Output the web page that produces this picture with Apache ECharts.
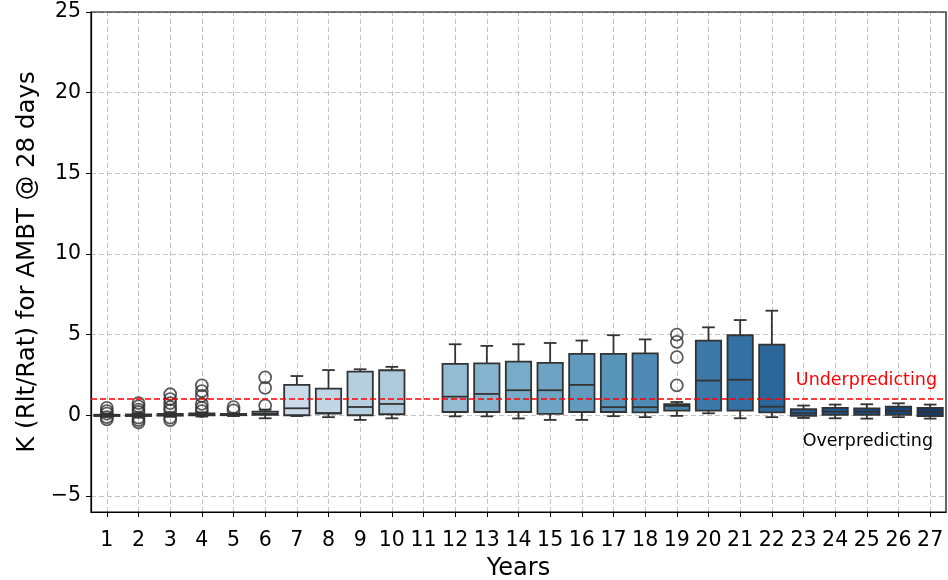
<!DOCTYPE html>
<html>
<head>
<meta charset="utf-8">
<script src="https://cdn.jsdelivr.net/npm/echarts@6/dist/echarts.min.js"></script>
<style>
html,body{margin:0;padding:0;background:#fff;}
#chart{width:948px;height:580px;}
</style>
</head>
<body>
<div id="chart"></div>
<script>
// ---- data ----
var years = ['1','2','3','4','5','6','7','8','9','10','11','12','13','14','15','16','17','18','19','20','21','22','23','24','25','26','27'];
// [low whisker, Q1, median, Q3, high whisker] per year (null = no data)
var boxStats = [
  [-0.1, -0.05, 0.0, 0.03, 0.08],
  [-0.1, -0.05, 0.0, 0.05, 0.1],
  [-0.1, -0.03, 0.02, 0.08, 0.15],
  [-0.08, 0.0, 0.05, 0.12, 0.18],
  [-0.05, 0.0, 0.03, 0.08, 0.12],
  [-0.19, 0.02, 0.1, 0.22, 0.35],
  [-0.05, 0.0, 0.43, 1.88, 2.43],
  [-0.12, 0.1, 0.14, 1.65, 2.8],
  [-0.29, 0.0, 0.51, 2.7, 2.85],
  [-0.19, 0.06, 0.7, 2.79, 3.0],
  null,
  [-0.07, 0.2, 1.15, 3.18, 4.4],
  [-0.07, 0.2, 1.32, 3.22, 4.3],
  [-0.2, 0.2, 1.55, 3.32, 4.4],
  [-0.29, 0.08, 1.55, 3.24, 4.48],
  [-0.29, 0.2, 1.88, 3.8, 4.63],
  [-0.06, 0.2, 0.5, 3.8, 4.96],
  [-0.12, 0.18, 0.5, 3.84, 4.7],
  [-0.04, 0.29, 0.58, 0.68, 0.82],
  [0.12, 0.29, 2.15, 4.63, 5.45],
  [-0.19, 0.29, 2.2, 4.96, 5.9],
  [-0.12, 0.18, 0.53, 4.38, 6.48],
  [-0.17, -0.04, 0.12, 0.37, 0.6],
  [-0.19, 0.02, 0.22, 0.45, 0.66],
  [-0.21, 0.02, 0.22, 0.43, 0.68],
  [-0.12, 0.02, 0.27, 0.53, 0.74],
  [-0.21, -0.06, 0.19, 0.45, 0.66]
];
// outliers: [year index, value]
var outliers = [
  [0, 0.45], [0, 0.25], [0, 0.1], [0, -0.12], [0, -0.26],
  [1, 0.75], [1, 0.55], [1, 0.35], [1, 0.2], [1, -0.15], [1, -0.3], [1, -0.45],
  [2, 1.3], [2, 1.0], [2, 0.75], [2, 0.5], [2, 0.3], [2, -0.15], [2, -0.3],
  [3, 1.85], [3, 1.5], [3, 1.2], [3, 0.7], [3, 0.45], [3, 0.25],
  [4, 0.5], [4, 0.3],
  [5, 2.35], [5, 1.7], [5, 0.6],
  [18, 5.0], [18, 4.55], [18, 3.6], [18, 1.85]
];
var yTicks = [-5, 0, 5, 10, 15, 20, 25];
var refLineValue = 1;

// ---- palette: seaborn "Blues" with boxplot desaturation 0.75 ----
var bluesStops = [[247,251,255],[222,235,247],[198,219,239],[158,202,225],[107,174,214],[66,146,198],[33,113,181],[8,81,156],[8,48,107]];
function blues(t){
  var p = t*8, i = Math.min(7, Math.floor(p)), f = p - i;
  var a = bluesStops[i], b = bluesStops[i+1];
  return [a[0]+(b[0]-a[0])*f, a[1]+(b[1]-a[1])*f, a[2]+(b[2]-a[2])*f].map(function(v){return v/255;});
}
function rgb2hls(r,g,b){
  var mx=Math.max(r,g,b), mn=Math.min(r,g,b), l=(mx+mn)/2, h=0, s=0;
  if(mx!==mn){
    var d=mx-mn; s = l<=0.5 ? d/(mx+mn) : d/(2-mx-mn);
    var rc=(mx-r)/d, gc=(mx-g)/d, bc=(mx-b)/d;
    if(r===mx) h=bc-gc; else if(g===mx) h=2+rc-bc; else h=4+gc-rc;
    h=(h/6)%1; if(h<0) h+=1;
  }
  return [h,l,s];
}
function hls2rgb(h,l,s){
  if(s===0) return [l,l,l];
  var m2 = l<=0.5 ? l*(1+s) : l+s-l*s, m1 = 2*l-m2;
  function v(hue){ hue=((hue%1)+1)%1; if(hue<1/6) return m1+(m2-m1)*hue*6; if(hue<0.5) return m2; if(hue<2/3) return m1+(m2-m1)*(2/3-hue)*6; return m1; }
  return [v(h+1/3), v(h), v(h-1/3)];
}
function paletteColor(i, n){
  var c = blues((i+1)/(n+1));
  var hls = rgb2hls(c[0],c[1],c[2]);
  var r = hls2rgb(hls[0], hls[1], hls[2]*0.75);
  return 'rgb(' + r.map(function(v){return Math.round(v*255);}).join(',') + ')';
}
var colors = years.map(function(_, i){ return paletteColor(i, years.length); });

var boxData = [];
boxStats.forEach(function(s, i){ if(s) boxData.push([i, s[0], s[1], s[2], s[3], s[4]]); });

var edge = '#333333';
var gridColor = '#c4c4c4';
var font = 'DejaVu Sans';

var vLines = years.map(function(y){ return { xAxis: y }; });
var hLines = yTicks.map(function(v){ return { yAxis: v }; });

var chart = echarts.init(document.getElementById('chart'), null, {renderer: 'canvas'});
chart.setOption({
  animation: false,
  backgroundColor: '#fff',
  grid: { left: 91, right: 2, top: 12, bottom: 68, containLabel: false, outerBoundsMode: 'none',
    show: true, borderColor: '#000', borderWidth: 1.2, backgroundColor: 'transparent', z: 6 },
  xAxis: {
    type: 'category', data: years, boundaryGap: true,
    name: 'Years', nameLocation: 'middle', nameGap: 45,
    nameTextStyle: { fontFamily: font, fontSize: 24, color: '#000' },
    axisLine: { show: true, onZero: false, lineStyle: { color: '#000', width: 1.2 } },
    axisTick: { show: true, alignWithLabel: true, length: 5, lineStyle: { color: '#000' } },
    axisLabel: { fontFamily: font, fontSize: 20.5, color: '#000', margin: 18, interval: 0 },
    splitLine: { show: false }
  },
  yAxis: {
    type: 'value', min: -6, max: 25,
    name: 'K (Rlt/Rat) for AMBT @ 28 days', nameLocation: 'middle', nameGap: 48,
    nameTextStyle: { fontFamily: font, fontSize: 24.5, color: '#000' },
    axisLine: { show: true, onZero: false, lineStyle: { color: '#000', width: 1.2 } },
    axisTick: { show: true, length: 5, lineStyle: { color: '#000' }, customValues: yTicks },
    axisLabel: { fontFamily: font, fontSize: 20.5, color: '#000', margin: 10, customValues: yTicks,
      formatter: function(v){ return v < 0 ? '\u2212' + Math.abs(v) : String(v); } },
    splitLine: { show: false }
  },
  series: [
    {
      type: 'line', data: [], z: 0, silent: true,
      markLine: { silent: true, z: 0, symbol: 'none', animation: false, label: { show: false },
        lineStyle: { color: gridColor, type: [5, 3], width: 1 },
        data: vLines.concat(hLines) }
    },
    {
      type: 'custom', z: 3, data: boxData,
      encode: { x: 0, y: [1,2,3,4,5] },
      renderItem: function(params, api){
        var idx = api.value(0);
        var bw = api.size([1, 0])[0];
        var w = bw * 0.8, cap = w * 0.5;
        var lo = api.coord([idx, api.value(1)]);
        var q1 = api.coord([idx, api.value(2)]);
        var md = api.coord([idx, api.value(3)]);
        var q3 = api.coord([idx, api.value(4)]);
        var hi = api.coord([idx, api.value(5)]);
        var x = lo[0];
        var ls = { stroke: edge, lineWidth: 1.8 };
        return { type: 'group', children: [
          { type: 'line', shape: { x1: x, y1: q1[1], x2: x, y2: lo[1] }, style: ls },
          { type: 'line', shape: { x1: x, y1: q3[1], x2: x, y2: hi[1] }, style: ls },
          { type: 'line', shape: { x1: x - cap/2, y1: lo[1], x2: x + cap/2, y2: lo[1] }, style: ls },
          { type: 'line', shape: { x1: x - cap/2, y1: hi[1], x2: x + cap/2, y2: hi[1] }, style: ls },
          { type: 'rect', shape: { x: x - w/2, y: q3[1], width: w, height: Math.max(q1[1] - q3[1], 0.5) },
            style: { fill: colors[idx], stroke: edge, lineWidth: 1.8 } },
          { type: 'line', shape: { x1: x - w/2, y1: md[1], x2: x + w/2, y2: md[1] }, style: ls }
        ]};
      }
    },
    {
      type: 'scatter', z: 4, data: outliers, symbol: 'circle', symbolSize: 12,
      itemStyle: { color: 'rgba(255,255,255,0)', borderColor: edge, borderWidth: 1.8 }
    },
    {
      type: 'line', data: [], z: 5, silent: true,
      markLine: { silent: true, z: 10, symbol: 'none', animation: false, label: { show: false },
        lineStyle: { color: '#ff0000', type: [6, 3], width: 1.5 },
        data: [{ yAxis: refLineValue }] }
    }
  ],
  graphic: [
    { type: 'text', right: 11, top: 371, z: 10,
      style: { text: 'Underpredicting', fill: '#ff0000', font: '17.5px "DejaVu Sans"' } },
    { type: 'text', right: 15, top: 432, z: 10,
      style: { text: 'Overpredicting', fill: '#000', font: '17.5px "DejaVu Sans"' } }
  ]
});
</script>
</body>
</html>
